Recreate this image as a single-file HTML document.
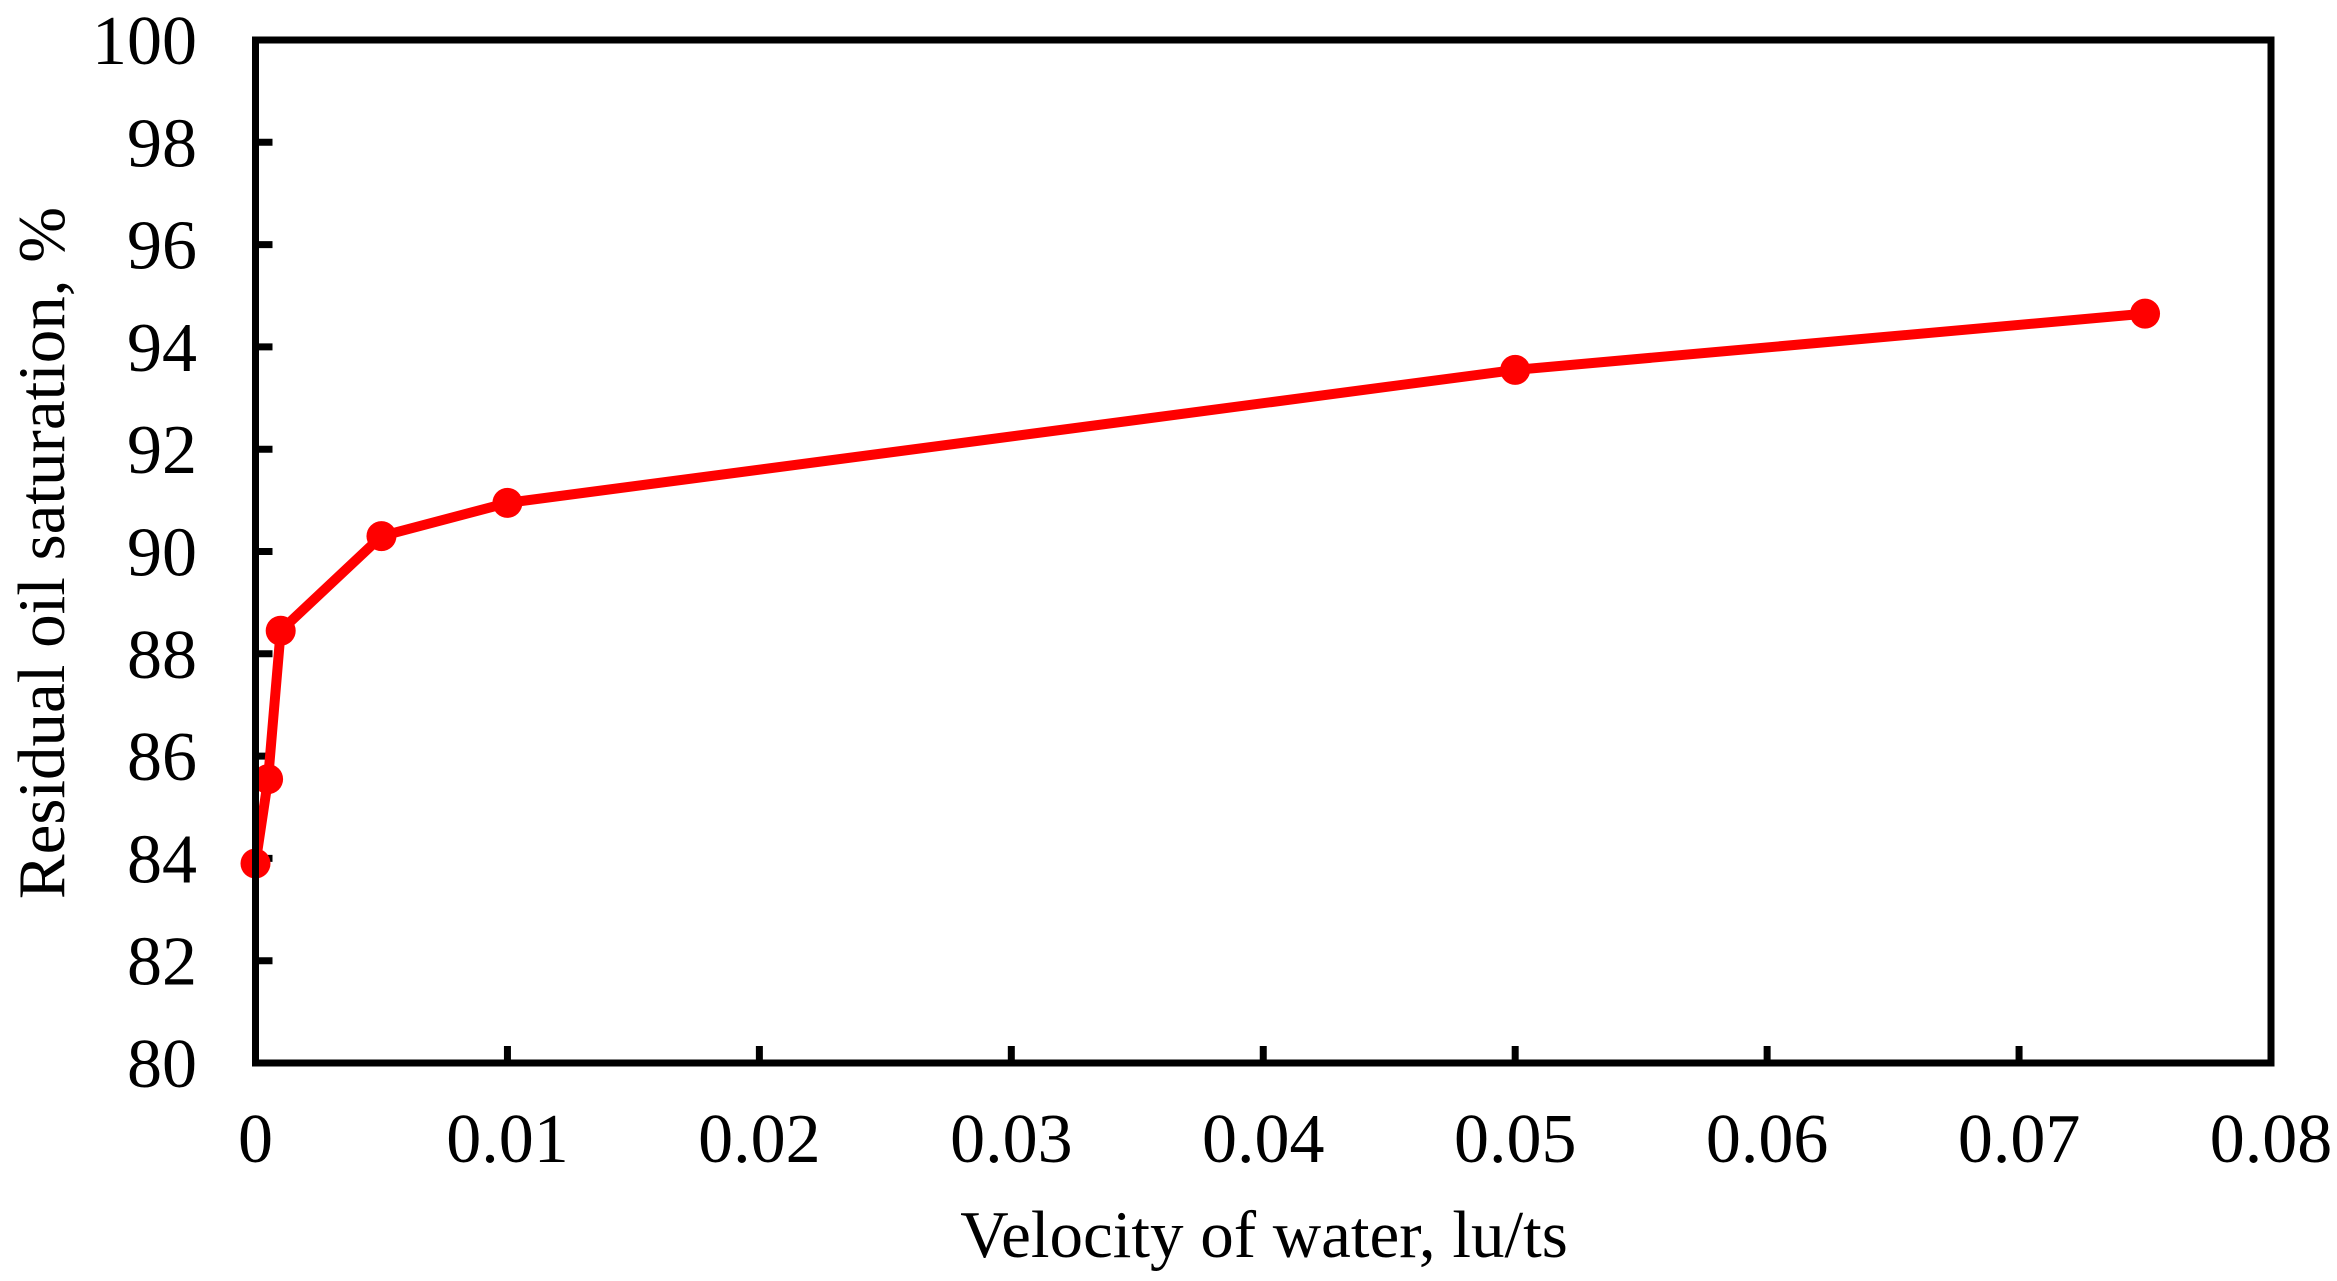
<!DOCTYPE html>
<html><head><meta charset="utf-8"><style>
html,body{margin:0;padding:0;background:#fff;}
svg{display:block;font-family:"Liberation Serif",serif;}
</style></head><body>
<svg id="chart" width="2337" height="1281" viewBox="0 0 2337 1281" xmlns="http://www.w3.org/2000/svg">
<g id="grid"></g>
<g id="marks"></g>
<rect x="255.5" y="40" width="2015.5" height="1023" fill="none" stroke="#000" stroke-width="7"/>
<text x="1264" y="1257" font-size="67" text-anchor="middle">Velocity of water, lu/ts</text>
<text transform="translate(64,553) rotate(-90)" font-size="67" text-anchor="middle">Residual oil saturation, %</text>
</svg>
<script>
const xValues = [0, 0.0005, 0.001, 0.005, 0.01, 0.05, 0.075];
const yValues = [83.9, 85.55, 88.45, 90.3, 90.95, 93.55, 94.65];
const xTicks = [0, 0.01, 0.02, 0.03, 0.04, 0.05, 0.06, 0.07, 0.08];
const xTickLabels = ["0","0.01","0.02","0.03","0.04","0.05","0.06","0.07","0.08"];
const yTicks = [80, 82, 84, 86, 88, 90, 92, 94, 96, 98, 100];

const X0=255.5, X1=2271, Y0=1063, Y1=40;
const sx = v => X0 + (v-0)/(0.08-0)*(X1-X0);
const sy = v => Y0 - (v-80)/(100-80)*(Y0-Y1);
const NS="http://www.w3.org/2000/svg";
const g=document.getElementById('grid'), m=document.getElementById('marks');
function mk(tag, attrs, parent){const e=document.createElementNS(NS,tag);for(const k in attrs)e.setAttribute(k,attrs[k]);parent.appendChild(e);return e;}

yTicks.forEach(v=>{
  const y=sy(v);
  const t=mk('line',{x1:X0,x2:X0+17,y1:y,y2:y,stroke:'#000','stroke-width':7},g);
  
  
  const l=mk('text',{x:197,y:y+24,'font-size':70,'text-anchor':'end'},g);
  l.textContent=String(v);
  
  
});
xTicks.forEach((v,i)=>{
  const x=sx(v);
  const t=mk('line',{x1:x,x2:x,y1:Y0,y2:Y0-17,stroke:'#000','stroke-width':7},g);
  
  
  const l=mk('text',{x:x,y:1162,'font-size':70,'text-anchor':'middle'},g);
  l.textContent=xTickLabels[i];
  
  
});
const pts=xValues.map((v,i)=>sx(v)+','+sy(yValues[i])).join(' ');
const line=mk('polyline',{points:pts,fill:'none',stroke:'#ff0000','stroke-width':10,'stroke-linejoin':'round'},m);


xValues.forEach((v,i)=>{
  const c=mk('circle',{cx:sx(v),cy:sy(yValues[i]),r:15,fill:'#ff0000'},m);
  
  
});
</script>
</body></html>
